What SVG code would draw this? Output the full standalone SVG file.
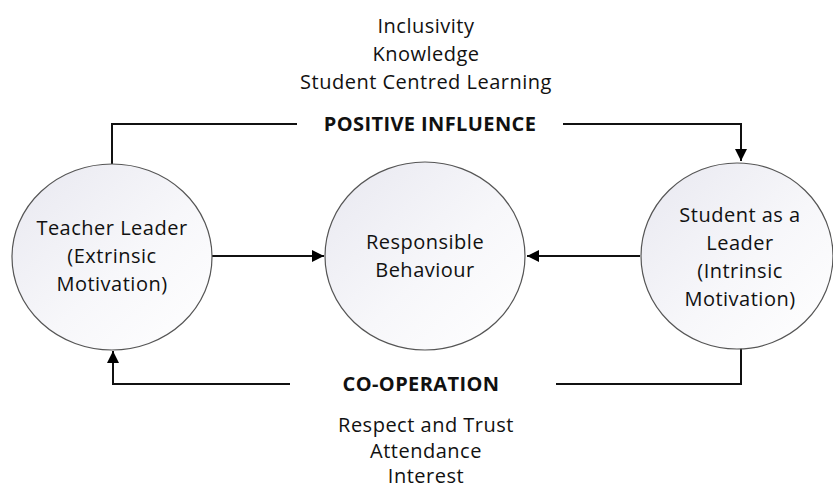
<svg xmlns="http://www.w3.org/2000/svg" width="833" height="490" viewBox="0 0 833 490">
  <defs>
    <linearGradient id="bubble" x1="0" y1="0" x2="1" y2="1">
      <stop offset="0" stop-color="#e8e8f0"/>
      <stop offset="0.55" stop-color="#f7f7fa"/>
      <stop offset="1" stop-color="#ffffff"/>
    </linearGradient>
    <marker id="arrow" viewBox="0 0 10 10" refX="10" refY="5" markerWidth="6" markerHeight="6" markerUnits="strokeWidth" orient="auto">
      <path d="M0,0 L10,5 L0,10 z" fill="#000"/>
    </marker>
    <style>
      .node ellipse { fill: url(#bubble); stroke: #555; stroke-width: 1.2; }
      .label { font-family: "Open Sans", "Liberation Sans", sans-serif; font-size: 20px; letter-spacing: 0.5px; fill: #111; text-anchor: middle; }
      .heading { font-family: "Open Sans", "Liberation Sans", sans-serif; font-size: 20px; letter-spacing: 0.4px; font-weight: bold; fill: #111; text-anchor: middle; }
      .wire { fill: none; stroke: #111; stroke-width: 2; }
    </style>
  </defs>
  <rect width="833" height="490" fill="#fff"/>

  <!-- connectors -->
  <g id="connectors">
    <polyline class="wire" points="112,164 112,124 297,124"/>
    <polyline class="wire" points="563,124 741,124 741,161" marker-end="url(#arrow)"/>
    <polyline class="wire" points="741,348 741,384 556,384"/>
    <polyline class="wire" points="290,384 113,384 113,351" marker-end="url(#arrow)"/>
    <line class="wire" x1="212" y1="256" x2="324" y2="256" marker-end="url(#arrow)"/>
    <line class="wire" x1="640" y1="256" x2="527" y2="256" marker-end="url(#arrow)"/>
  </g>

  <!-- nodes -->
  <g id="teacher-leader" class="node">
    <ellipse cx="112" cy="257" rx="100" ry="93"/>
    <text class="label" x="112" y="235">Teacher Leader</text>
    <text class="label" x="112" y="263">(Extrinsic</text>
    <text class="label" x="112" y="291">Motivation)</text>
  </g>
  <g id="responsible-behaviour" class="node">
    <ellipse cx="425" cy="256" rx="100" ry="94"/>
    <text class="label" x="425" y="249">Responsible</text>
    <text class="label" x="425" y="277">Behaviour</text>
  </g>
  <g id="student-leader" class="node">
    <ellipse cx="737" cy="256" rx="96" ry="93"/>
    <text class="label" x="740" y="222">Student as a</text>
    <text class="label" x="740" y="250">Leader</text>
    <text class="label" x="740" y="278">(Intrinsic</text>
    <text class="label" x="740" y="306">Motivation)</text>
  </g>

  <!-- edge labels -->
  <g id="positive-influence">
    <text class="label" x="426" y="33">Inclusivity</text>
    <text class="label" x="426" y="61">Knowledge</text>
    <text class="label" x="426" y="89">Student Centred Learning</text>
    <text class="heading" x="430" y="131">POSITIVE INFLUENCE</text>
  </g>
  <g id="co-operation">
    <text class="heading" x="421" y="391">CO-OPERATION</text>
    <text class="label" x="426" y="432">Respect and Trust</text>
    <text class="label" x="426" y="458">Attendance</text>
    <text class="label" x="426" y="483">Interest</text>
  </g>
</svg>
